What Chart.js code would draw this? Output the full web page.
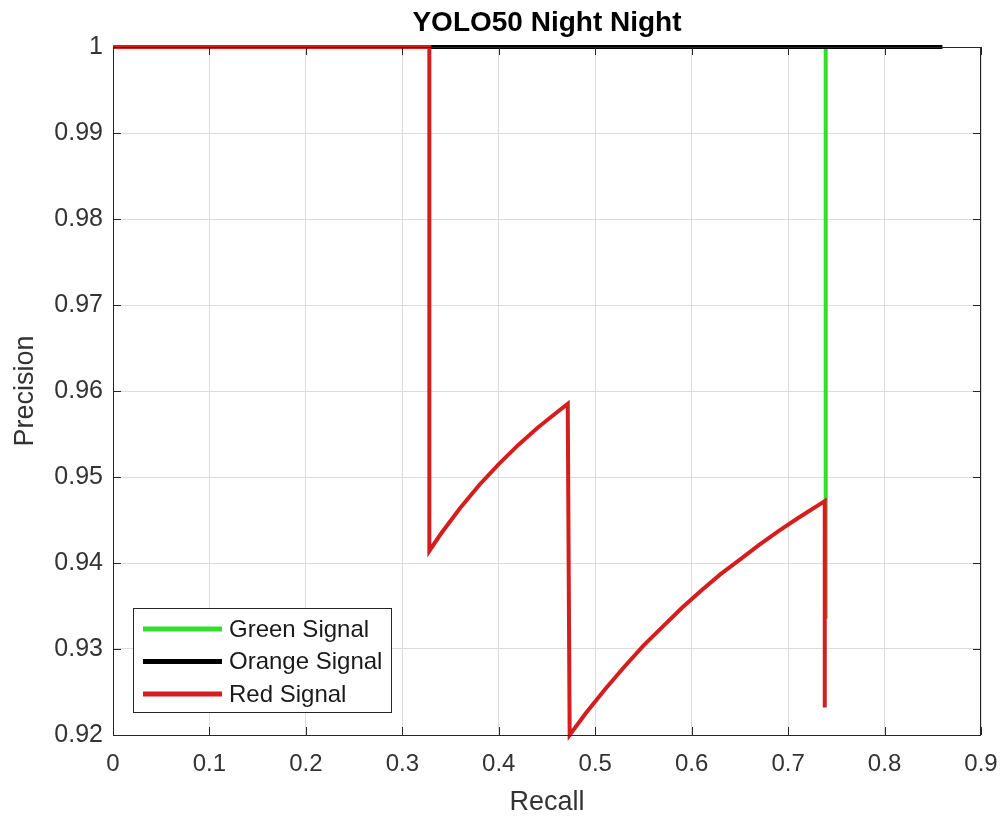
<!DOCTYPE html>
<html>
<head>
<meta charset="utf-8">
<title>YOLO50 Night Night</title>
<script src="https://cdn.jsdelivr.net/npm/chart.js@4.4.1/dist/chart.umd.min.js"></script>
<style>
  body { margin: 0; background: #fff; }
  canvas { display: block; }
</style>
</head>
<body>
<canvas id="chart" width="1007" height="821"></canvas>
<script>
// precision / recall curves
const chartTitle = "YOLO50 Night Night";
const seriesLabels = ["Green Signal", "Orange Signal", "Red Signal"];

const greenRecall = [0, 0.739, 0.739];
const greenPrecision = [1, 1, 0.9335];

const orangeRecall = [0, 0.86];
const orangePrecision = [1, 1];

const redRecall = [0, 0.328, 0.328, 0.34, 0.36, 0.38, 0.40, 0.42, 0.44, 0.46, 0.4715,
  0.4735, 0.49, 0.51, 0.53, 0.55, 0.57, 0.59, 0.61, 0.63, 0.65, 0.67, 0.69, 0.71, 0.738, 0.738];
const redPrecision = [1, 1, 0.9414, 0.9434, 0.9464, 0.9491, 0.9515, 0.9537, 0.9557, 0.9575, 0.9585,
  0.92, 0.9225, 0.9253, 0.9279, 0.9304, 0.9326, 0.9348, 0.9368, 0.9387, 0.9404, 0.9421, 0.9437, 0.9452, 0.9472, 0.9232];

const xTicks = [0, 0.1, 0.2, 0.3, 0.4, 0.5, 0.6, 0.7, 0.8, 0.9];
const yTicks = [0.92, 0.93, 0.94, 0.95, 0.96, 0.97, 0.98, 0.99, 1];

const toPoints = (xs, ys) => xs.map((x, i) => ({ x: x, y: ys[i] }));

const FONT = "'Liberation Sans', Arial, Helvetica, sans-serif";
const AXIS_COLOR = "#262626";

// matlab style box with inward ticks, title over the axes, legend inside
const boxPlugin = {
  id: "matlabBox",
  afterDraw(chart) {
    const { ctx, chartArea: a, scales } = chart;
    ctx.save();
    ctx.strokeStyle = AXIS_COLOR;
    ctx.lineWidth = 1;
    ctx.strokeRect(a.left + 0.5, a.top + 0.5, a.right - a.left - 1, a.bottom - a.top);
    const len = 8;
    ctx.beginPath();
    xTicks.forEach((v) => {
      const px = Math.round(scales.x.getPixelForValue(v)) + 0.5;
      ctx.moveTo(px, a.bottom);
      ctx.lineTo(px, a.bottom - len);
      ctx.moveTo(px, a.top);
      ctx.lineTo(px, a.top + len);
    });
    yTicks.forEach((v) => {
      const py = Math.round(scales.y.getPixelForValue(v)) + 0.5;
      ctx.moveTo(a.left, py);
      ctx.lineTo(a.left + len, py);
      ctx.moveTo(a.right, py);
      ctx.lineTo(a.right - len, py);
    });
    ctx.stroke();

    // title
    ctx.fillStyle = "#000";
    ctx.font = "bold 28px " + FONT;
    ctx.textAlign = "center";
    ctx.textBaseline = "middle";
    ctx.fillText(chartTitle, (a.left + a.right) / 2, 23);

    // legend
    const lx = 133, ly = 608, lw = 258, lh = 104;
    ctx.fillStyle = "#fff";
    ctx.fillRect(lx, ly, lw, lh);
    ctx.strokeStyle = AXIS_COLOR;
    ctx.lineWidth = 1;
    ctx.strokeRect(lx + 0.5, ly + 0.5, lw, lh);
    ctx.font = "24px " + FONT;
    ctx.textAlign = "left";
    chart.data.datasets.forEach((ds, i) => {
      const y = ly + 21 + i * 32.5;
      ctx.strokeStyle = ds.borderColor;
      ctx.lineWidth = 5;
      ctx.beginPath();
      ctx.moveTo(lx + 10, y);
      ctx.lineTo(lx + 89, y);
      ctx.stroke();
      ctx.fillStyle = "#1a1a1a";
      ctx.fillText(ds.label, lx + 96, y + 1);
    });
    ctx.restore();
  }
};

new Chart(document.getElementById("chart").getContext("2d"), {
  type: "line",
  data: {
    datasets: [
      {
        label: seriesLabels[0],
        data: toPoints(greenRecall, greenPrecision),
        borderColor: "#2fe02f",
        order: 2
      },
      {
        label: seriesLabels[1],
        data: toPoints(orangeRecall, orangePrecision),
        borderColor: "#000000",
        order: 1
      },
      {
        label: seriesLabels[2],
        data: toPoints(redRecall, redPrecision),
        borderColor: "#d41e1e",
        order: 0
      }
    ]
  },
  options: {
    responsive: false,
    animation: false,
    datasets: {
      line: { borderWidth: 4, pointRadius: 0, tension: 0, fill: false, clip: 6 }
    },
    layout: { padding: { left: 0, right: 26, top: 47, bottom: 0 } },
    plugins: {
      legend: { display: false },
      tooltip: { enabled: false },
      title: { display: false }
    },
    scales: {
      x: {
        type: "linear",
        min: 0,
        max: 0.9,
        afterBuildTicks: (s) => { s.ticks = xTicks.map((v) => ({ value: v })); },
        afterFit: (s) => { s.height = 86; s.paddingRight = 0; s.paddingLeft = 0; },
        grid: { color: "#dcdcdc", drawTicks: false },
        border: { display: false },
        ticks: {
          padding: 15,
          color: "#333",
          font: { family: FONT, size: 24 },
          callback: (v) => String(Math.round(v * 10) / 10)
        },
        title: {
          display: true,
          text: "Recall",
          color: "#333",
          font: { family: FONT, size: 27 },
          padding: { top: 0, bottom: 2 }
        }
      },
      y: {
        type: "linear",
        min: 0.92,
        max: 1,
        afterBuildTicks: (s) => { s.ticks = yTicks.map((v) => ({ value: v })); },
        afterFit: (s) => { s.width = 113; },
        grid: { color: "#dcdcdc", drawTicks: false },
        border: { display: false },
        ticks: {
          padding: 10,
          color: "#333",
          font: { family: FONT, size: 25 },
          callback: (v) => String(Math.round(v * 100) / 100)
        },
        title: {
          display: true,
          text: "Precision",
          color: "#333",
          font: { family: FONT, size: 27 },
          padding: { top: 9, bottom: 0 }
        }
      }
    }
  },
  plugins: [boxPlugin]
});
</script>
</body>
</html>
